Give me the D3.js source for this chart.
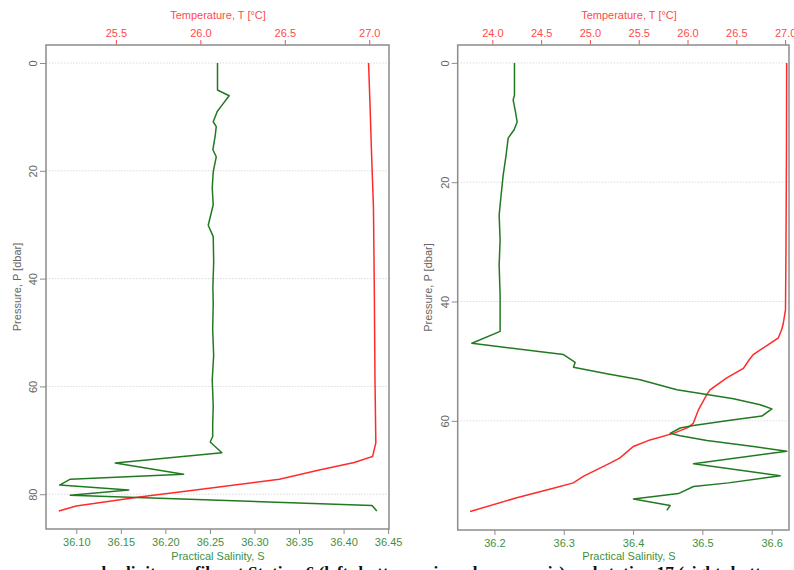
<!DOCTYPE html>
<html>
<head>
<meta charset="utf-8">
<script src="https://cdn.jsdelivr.net/npm/d3@7"></script>
<style>
  body { margin: 0; background: #fff; }
  svg { display: block; }
  text { font-family: "Liberation Sans Narrow", "Arial Narrow", "Liberation Sans", sans-serif; }
</style>
</head>
<body>
<script>
var w = 794;
var h = 570;

/* Station 6 (left panel) */
var st6SalPressure = [0, 5.0, 6.07, 8.1, 9.0, 10.9, 11.8, 13.5, 16.1, 17.4, 20.2, 23.2, 26.3, 30.1, 32.2, 36.9,
    41.7, 44.5, 49.5, 54.2, 58.8, 63.5, 67.2, 69.3, 70.3, 72.3, 74.2, 76.3, 77.2, 78.3, 79.2, 80.2, 82.1, 83.1];
var st6Salinity = [36.2585, 36.2585, 36.2716, 36.2623, 36.2582, 36.2537, 36.2571, 36.2559, 36.2533, 36.2571,
    36.2537, 36.2526, 36.2537, 36.2481, 36.2537, 36.2542, 36.2533, 36.2537, 36.2531, 36.2542, 36.2526,
    36.2537, 36.2531, 36.2531, 36.2503, 36.2634, 36.1437, 36.2204, 36.0933, 36.0813, 36.1589, 36.0933,
    36.4320, 36.4373];
var st6TempPressure = [0, 7.2, 17.1, 26.9, 41.7, 58.8, 70.5, 73.0, 74.1, 75.5, 77.2, 78.9, 80.5, 82.2, 83.1];
var st6Temperature = [26.996, 27.004, 27.014, 27.025, 27.030, 27.034, 27.039, 27.020, 26.911, 26.704,
    26.468, 26.053, 25.639, 25.265, 25.162];

/* Station 17 (right panel) */
var st17SalPressure = [0, 5.4, 6.2, 7.9, 9.9, 11.2, 12.6, 15.4, 18.8, 22.1, 25.5, 29.7, 33.9, 38.9, 45.0, 47.0,
    48.9, 49.2, 50.2, 51.0, 52.1, 53.1, 54.8, 55.6, 56.3, 57.3, 58.0, 59.2, 59.9, 60.8, 61.2, 62.1, 62.5,
    63.3, 64.3, 65.1, 67.2, 69.2, 70.4, 71.0, 72.2, 73.1, 74.2, 75.0];
var st17Salinity = [36.2289, 36.2289, 36.2270, 36.2299, 36.2328, 36.2284, 36.2198, 36.2169, 36.2126, 36.2097,
    36.2068, 36.2082, 36.2068, 36.2082, 36.2082, 36.1674, 36.2996, 36.3035, 36.3165, 36.3140, 36.3622,
    36.4102, 36.4632, 36.5065, 36.5449, 36.5834, 36.6003, 36.5859, 36.5401, 36.4872, 36.4680, 36.4535,
    36.4680, 36.5065, 36.5737, 36.6219, 36.4872, 36.6123, 36.5377, 36.4872, 36.4655, 36.4006, 36.4535,
    36.4488];
var st17TempPressure = [0, 14.6, 31.3, 41.4, 43.9, 44.7, 46.1, 48.9, 49.6, 51.2, 52.8, 54.8, 55.6, 58.2, 60.4,
    61.1, 62.1, 63.2, 64.3, 66.2, 67.1, 69.3, 70.4, 71.3, 72.9, 75.2];
var st17Temperature = [27.016, 27.014, 27.009, 27.004, 26.979, 26.965, 26.930, 26.674, 26.640, 26.572,
    26.402, 26.231, 26.197, 26.111, 26.059, 26.008, 25.855, 25.616, 25.445, 25.308, 25.206, 24.932,
    24.830, 24.625, 24.250, 23.772];

/* Tick labels */
var pressureTicks = [0, 20, 40, 60, 80];
var st6TempTicks = [25.5, 26.0, 26.5, 27.0];
var st6SalTicks = [36.10, 36.15, 36.20, 36.25, 36.30, 36.35, 36.40, 36.45];
var st17TempTicks = [24.0, 24.5, 25.0, 25.5, 26.0, 26.5, 27.0];
var st17SalTicks = [36.2, 36.3, 36.4, 36.5, 36.6];

var caption = "e and salinity profiles at Station 6 (left; bottom axis and upper axis) and station 17 (right; bottom";

var salColor = "#217a21";
var tempColor = "#ff2b2b";
var salText = "#3f8f3f";
var tempText = "#ff4a4a";
var axisGray = "#8c8c8c";

var svg = d3.select("body")
    .append("svg")
    .attr("width", w)
    .attr("height", h);

var panels = [
    {
        x0: 46, x1: 389, y0: 45, y1: 529,
        tDomain: [25.086, 27.117], sDomain: [36.066, 36.451], pDomain: [-3.34, 86.45],
        tTicks: st6TempTicks, sTicks: st6SalTicks, sFmt: ".2f",
        salP: st6SalPressure, sal: st6Salinity, tempP: st6TempPressure, temp: st6Temperature,
        titleX: 218, pLabelX: 17
    },
    {
        x0: 457.7, x1: 789, y0: 45, y1: 530,
        tDomain: [23.645, 27.04], sDomain: [36.147, 36.625], pDomain: [-3.0, 78.3],
        tTicks: st17TempTicks, sTicks: st17SalTicks, sFmt: ".1f",
        salP: st17SalPressure, sal: st17Salinity, tempP: st17TempPressure, temp: st17Temperature,
        titleX: 629, pLabelX: 428
    }
];

panels.forEach(function(p) {
    var yScale = d3.scaleLinear().domain(p.pDomain).range([p.y0, p.y1]);
    var tScale = d3.scaleLinear().domain(p.tDomain).range([p.x0, p.x1]);
    var sScale = d3.scaleLinear().domain(p.sDomain).range([p.x0, p.x1]);
    var g = svg.append("g");

    // dotted grid at pressure ticks
    var pt = pressureTicks.filter(function(d){ return yScale(d) < p.y1; });
    g.selectAll("line.grid")
        .data(pt)
        .enter()
        .append("line")
        .attr("x1", p.x0).attr("x2", p.x1)
        .attr("y1", function(d){ return yScale(d); })
        .attr("y2", function(d){ return yScale(d); })
        .attr("stroke", "#dcdcdc")
        .attr("stroke-width", 1)
        .attr("stroke-dasharray", "1.5,1.5");

    // profiles
    var salLine = d3.line()
        .x(function(d){ return sScale(d[0]); })
        .y(function(d){ return yScale(d[1]); });
    var tempLine = d3.line()
        .x(function(d){ return tScale(d[0]); })
        .y(function(d){ return yScale(d[1]); });

    g.append("path")
        .datum(d3.zip(p.temp, p.tempP))
        .attr("d", tempLine)
        .attr("fill", "none")
        .attr("stroke", tempColor)
        .attr("stroke-width", 1.5);

    g.append("path")
        .datum(d3.zip(p.sal, p.salP))
        .attr("d", salLine)
        .attr("fill", "none")
        .attr("stroke", salColor)
        .attr("stroke-width", 1.5)
        .attr("stroke-linejoin", "round");

    // axes
    var top = g.append("g")
        .attr("transform", "translate(0," + p.y0 + ")")
        .call(d3.axisTop(tScale).tickValues(p.tTicks).tickFormat(d3.format(".1f")).tickSize(5).tickPadding(3));
    top.select(".domain").remove();
    top.selectAll("line").attr("stroke", tempText);
    top.selectAll("text").attr("fill", tempText).style("font-size", "11px");

    var bottom = g.append("g")
        .attr("transform", "translate(0," + p.y1 + ")")
        .call(d3.axisBottom(sScale).tickValues(p.sTicks).tickFormat(d3.format(p.sFmt)).tickSize(5).tickPadding(4));
    bottom.select(".domain").remove();
    bottom.selectAll("line").attr("stroke", axisGray);
    bottom.selectAll("text").attr("fill", salText).style("font-size", "11px");

    var left = g.append("g")
        .attr("transform", "translate(" + p.x0 + ",0)")
        .call(d3.axisLeft(yScale).tickValues(pt).tickSize(6).tickPadding(4));
    left.select(".domain").remove();
    left.selectAll("line").attr("stroke", axisGray);
    left.selectAll("text")
        .attr("fill", "#666")
        .style("font-size", "11px")
        .attr("text-anchor", "middle")
        .attr("x", null)
        .attr("transform", "translate(-13,0) rotate(-90)")
        .attr("y", 0)
        .attr("dy", "0.35em");

    // box
    g.append("rect")
        .attr("x", p.x0).attr("y", p.y0)
        .attr("width", p.x1 - p.x0).attr("height", p.y1 - p.y0)
        .attr("fill", "none")
        .attr("stroke", axisGray)
        .attr("stroke-width", 1.5);

    // titles
    g.append("text")
        .attr("x", p.titleX).attr("y", 19)
        .attr("text-anchor", "middle")
        .attr("fill", tempText)
        .style("font-size", "11px")
        .text("Temperature, T [°C]");

    g.append("text")
        .attr("x", p.titleX).attr("y", 560)
        .attr("text-anchor", "middle")
        .attr("fill", salText)
        .style("font-size", "11px")
        .text("Practical Salinity, S");

    g.append("text")
        .attr("transform", "translate(" + (p.pLabelX + 4) + "," + ((p.y0 + p.y1) / 2) + ") rotate(-90)")
        .attr("text-anchor", "middle")
        .attr("fill", "#666")
        .style("font-size", "11px")
        .text("Pressure, P [dbar]");
});

// cropped caption under the figure, only its top shows
svg.append("text")
    .attr("x", 66).attr("y", 577.5)
    .attr("textLength", 718)
    .attr("lengthAdjust", "spacingAndGlyphs")
    .style("font-family", "'Liberation Serif', serif")
    .style("font-weight", "bold")
    .style("font-size", "16px")
    .attr("fill", "#111")
    .text(caption);
</script>
</body>
</html>
